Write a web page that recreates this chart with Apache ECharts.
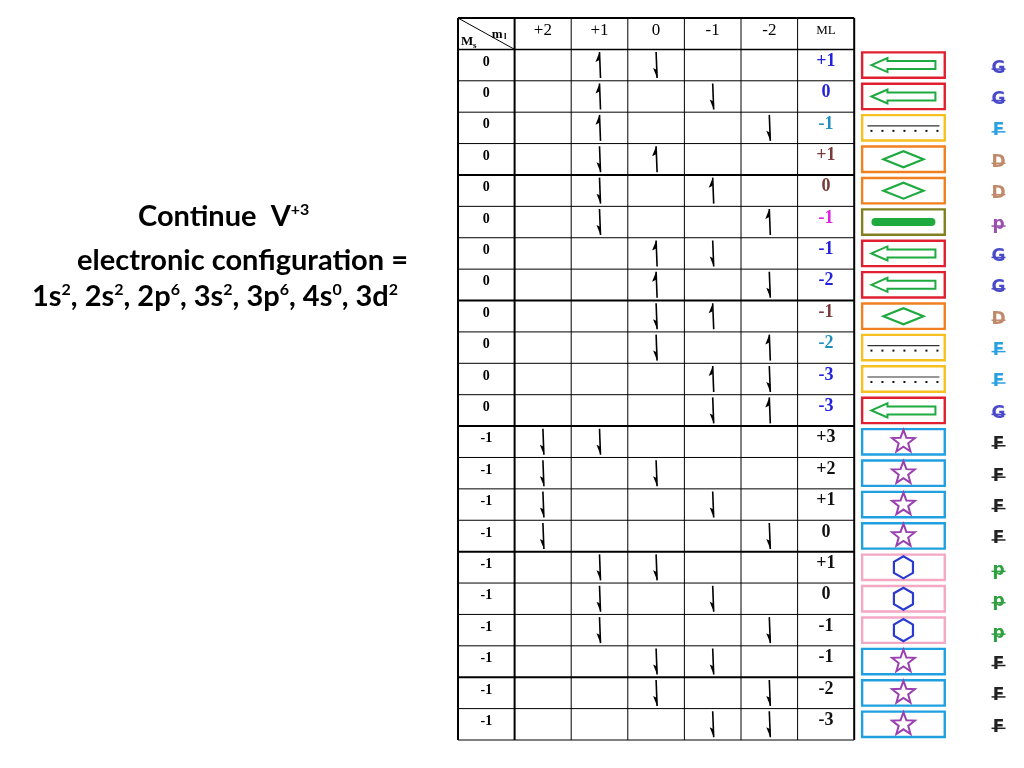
<!DOCTYPE html>
<html><head><meta charset="utf-8">
<script src="https://cdn.jsdelivr.net/npm/echarts@6/dist/echarts.min.js"></script>
<style>html,body{margin:0;padding:0;background:#fff}#c{width:1024px;height:768px}</style>
</head><body><div id="c"></div>
<script>
const headers = ['+2','+1','0','-1','-2','ML'];
const orbitals = ['+2','+1','0','-1','-2'];
const msValues = ['0','0','0','0','0','0','0','0','0','0','0','0','-1','-1','-1','-1','-1','-1','-1','-1','-1','-1'];
const e1Orb = ['+1','+1','+1','+1','+1','+1','0','0','0','0','-1','-1','+2','+2','+2','+2','+1','+1','+1','0','0','-1'];
const e1Up  = [1,1,1,0,0,0,1,1,0,0,1,0,0,0,0,0,0,0,0,0,0,0];
const e2Orb = ['0','-1','-2','0','-1','-2','-1','-2','-1','-2','-2','-2','+1','0','-1','-2','0','-1','-2','-1','-2','-2'];
const e2Up  = [0,0,0,1,1,1,0,0,1,1,0,1,0,0,0,0,0,0,0,0,0,0];
const mlValues = ['+1','0','-1','+1','0','-1','-1','-2','-1','-2','-3','-3','+3','+2','+1','0','+1','0','-1','-1','-2','-3'];
const mlColors = ['#2222dd','#2222dd','#1f8fc0','#7a3a3a','#7a3a3a','#e020e0','#2222dd','#2222dd','#7a3a3a','#1f8fc0','#2222dd','#2222dd','#111','#111','#111','#111','#111','#111','#111','#111','#111','#111'];
const symbols = ['arrow','arrow','dots','diamond','diamond','bar','arrow','arrow','diamond','dots','dots','arrow','star','star','star','star','hex','hex','hex','star','star','star'];
const terms = ['G','G','F','D','D','p','G','G','D','F','F','G','F','F','F','F','p','p','p','F','F','F'];
const termColors = ['#4a4ac8','#4a4ac8','#2aa0e0','#c08a6a','#c08a6a','#9a50b0','#4a4ac8','#4a4ac8','#c08a6a','#2aa0e0','#2aa0e0','#4a4ac8','#222','#222','#222','#222','#30a040','#30a040','#30a040','#222','#222','#222'];

const boxColor = {arrow:'#e02030',dots:'#f5c020',diamond:'#f08020',bar:'#808020',star:'#20a0e0',hex:'#f4a8c4'};
const rows = msValues.map((m,i)=>[i]);

function harpoon(cx, cy, up){
  const h = 13, children = [];
  children.push({type:'line',shape:{x1:cx,y1:cy-h,x2:cx+1,y2:cy+h},style:{stroke:'#000',lineWidth:1.6}});
  if(up) children.push({type:'polygon',shape:{points:[[cx,cy-h],[cx-4,cy-h+10],[cx,cy-h+8]]},style:{fill:'#000'}});
  else children.push({type:'polygon',shape:{points:[[cx+1,cy+h],[cx-3,cy+h-10],[cx+1,cy+h-8]]},style:{fill:'#000'}});
  return children;
}
function symbolShape(kind,cx,cy){
  const g='#1faa40';
  if(kind==='arrow') return [{type:'polygon',shape:{points:[[cx-32,cy],[cx-16,cy-7],[cx-16,cy-4],[cx+32,cy-4],[cx+32,cy+4],[cx-16,cy+4],[cx-16,cy+7]]},style:{fill:'none',stroke:g,lineWidth:2}}];
  if(kind==='diamond') return [{type:'polygon',shape:{points:[[cx-20,cy],[cx,cy-8],[cx+20,cy],[cx,cy+8]]},style:{fill:'none',stroke:g,lineWidth:2.2}}];
  if(kind==='bar') return [{type:'rect',shape:{x:cx-32,y:cy-4,width:64,height:8,r:4},style:{fill:g}}];
  if(kind==='dots'){const c=[{type:'line',shape:{x1:cx-36,y1:cy-2,x2:cx+36,y2:cy-2},style:{stroke:'#333',lineWidth:1.2}}];
    for(let k=0;k<7;k++)c.push({type:'rect',shape:{x:cx-33+k*11,y:cy+2,width:2,height:2},style:{fill:'#111'}});return c;}
  if(kind==='star'){const p=[];for(let k=0;k<10;k++){const r=k%2?5:12,a=-Math.PI/2+k*Math.PI/5;p.push([cx+r*Math.cos(a),cy+r*Math.sin(a)]);}
    return [{type:'polygon',shape:{points:p},style:{fill:'none',stroke:'#9a40b0',lineWidth:2}}];}
  if(kind==='hex'){const p=[];for(let k=0;k<6;k++){const a=Math.PI/6+k*Math.PI/3;p.push([cx+11*Math.cos(a),cy+11*Math.sin(a)]);}
    return [{type:'polygon',shape:{points:p},style:{fill:'none',stroke:'#2a3ad0',lineWidth:2.2}}];}
  return [];
}
function renderRow(params, api){
  const i = api.value(0);
  const tl = api.coord([0,i]), br = api.coord([7,i+1]);
  const cw = (br[0]-tl[0])/7, rh = br[1]-tl[1], cy = tl[1]+rh/2;
  const ch = [];
  ch.push({type:'line',shape:{x1:tl[0],y1:br[1],x2:br[0],y2:br[1]},style:{stroke:'#000',lineWidth:(i%4===3||i===11)?2:1}});
  ch.push({type:'text',style:{text:msValues[i],x:tl[0]+cw/2,y:cy-3,align:'center',verticalAlign:'middle',font:'bold 14px "Liberation Serif"',fill:'#000'}});
  const o1 = orbitals.indexOf(e1Orb[i])+1, o2 = orbitals.indexOf(e2Orb[i])+1;
  ch.push(...harpoon(tl[0]+cw*(o1+0.5),cy,e1Up[i]));
  ch.push(...harpoon(tl[0]+cw*(o2+0.5),cy,e2Up[i]));
  ch.push({type:'text',style:{text:mlValues[i],x:tl[0]+cw*6.5,y:cy-4,align:'center',verticalAlign:'middle',font:'bold 18px "Liberation Serif"',fill:mlColors[i]}});
  const bx = api.coord([7.14,i])[0], bx2 = api.coord([8.6,i])[0];
  const bc = boxColor[symbols[i]];
  ch.push({type:'rect',shape:{x:bx,y:tl[1]+3,width:bx2-bx,height:rh-6},style:{fill:'none',stroke:bc,lineWidth:2.4}});
  ch.push(...symbolShape(symbols[i],(bx+bx2)/2,cy));
  const lx = api.coord([9.55,i])[0];
  ch.push({type:'text',style:{text:terms[i],x:lx,y:cy+3,align:'center',verticalAlign:'middle',font:'bold 17px "DejaVu Sans"',fill:termColors[i]}});
  ch.push({type:'line',shape:{x1:lx-7,y1:cy+4,x2:lx+7,y2:cy+4},style:{stroke:termColors[i],lineWidth:1.5}});
  return {type:'group',children:ch};
}
function renderHeader(params, api){
  const tl = api.coord([0,-1]), br = api.coord([7,0]);
  const cw=(br[0]-tl[0])/7, cy=(tl[1]+br[1])/2, ch=[];
  headers.forEach((h,k)=>ch.push({type:'text',style:{text:h,x:tl[0]+cw*(k+1.5),y:cy-3,align:'center',verticalAlign:'middle',font:(h==='ML'?'13px':'17px')+' "Liberation Serif"',fill:'#000'}}));
  ch.push({type:'line',shape:{x1:tl[0],y1:tl[1],x2:tl[0]+cw,y2:br[1]},style:{stroke:'#000',lineWidth:1}});
  ch.push({type:'text',style:{text:'m',x:tl[0]+cw-12,y:tl[1]+10,align:'right',font:'bold 13px "Liberation Serif"',fill:'#000'}});
  ch.push({type:'text',style:{text:'l',x:tl[0]+cw-8,y:tl[1]+14,align:'right',font:'bold 9px "Liberation Serif"',fill:'#000'}});
  ch.push({type:'text',style:{text:'M',x:tl[0]+3,y:br[1]-8,verticalAlign:'middle',font:'bold 13px "Liberation Serif"',fill:'#000'}});
  ch.push({type:'text',style:{text:'s',x:tl[0]+15,y:br[1]-4,verticalAlign:'middle',font:'bold 9px "Liberation Serif"',fill:'#000'}});
  const bot = api.coord([0,22])[1];
  for(let k=0;k<=7;k++) ch.push({type:'line',shape:{x1:tl[0]+cw*k,y1:tl[1],x2:tl[0]+cw*k,y2:bot},style:{stroke:'#000',lineWidth:(k===0||k===1||k===7)?2:1}});
  ch.push({type:'line',shape:{x1:tl[0],y1:tl[1],x2:br[0],y2:tl[1]},style:{stroke:'#000',lineWidth:2}});
  ch.push({type:'line',shape:{x1:tl[0],y1:br[1],x2:br[0],y2:br[1]},style:{stroke:'#000',lineWidth:1.5}});
  return {type:'group',children:ch};
}
const chart = echarts.init(document.getElementById('c'));
const txt = {fontFamily:'Lato',fontWeight:'bold',fontSize:29,fill:'#000'};
const sup = {fontFamily:'Lato',fontWeight:'bold',fontSize:16,verticalAlign:'top',padding:[0,0,14,0]};
chart.setOption({
  animation:false,
  grid:{left:458,right:0,top:18,bottom:28},
  xAxis:{type:'value',min:0,max:10,show:false},
  yAxis:{type:'value',min:-1,max:22,inverse:true,show:false},
  graphic:[
    {type:'text',left:138,top:202,style:{text:'Continue  V{s|+3}',rich:{s:sup},...txt}},
    {type:'text',left:77,top:246,style:{text:'electronic configuration =',...txt}},
    {type:'text',left:32,top:282,style:{text:'1s{s|2}, 2s{s|2}, 2p{s|6}, 3s{s|2}, 3p{s|6}, 4s{s|0}, 3d{s|2}',rich:{s:sup},...txt}}
  ],
  series:[
    {type:'custom',renderItem:renderHeader,data:[[0]]},
    {type:'custom',renderItem:renderRow,data:rows}
  ]
});
</script></body></html>
